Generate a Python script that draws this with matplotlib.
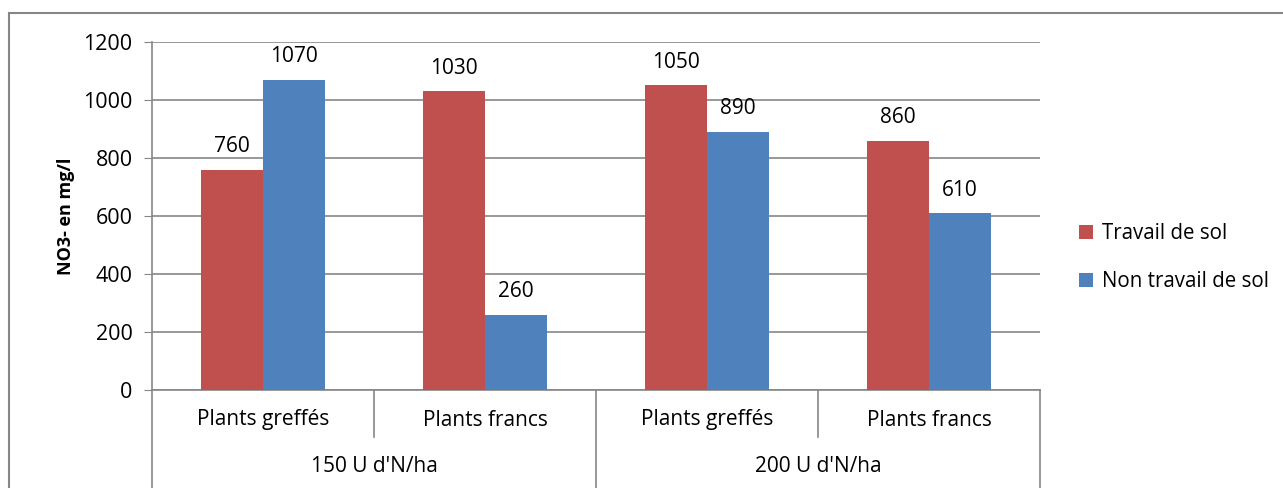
import matplotlib.pyplot as plt
import numpy as np
from matplotlib.patches import Rectangle

plt.rcParams['font.family'] = ['Open Sans', 'DejaVu Sans']

categories = ['Plants greffés', 'Plants francs', 'Plants greffés', 'Plants francs']
groups = ["150 U d'N/ha", "200 U d'N/ha"]
travail = [760, 1030, 1050, 860]
non_travail = [1070, 260, 890, 610]
series_names = ['Travail de sol', 'Non travail de sol']
colors = ['#C0504D', '#4F81BD']

W, H = 1283, 488
fig = plt.figure(figsize=(W / 100, H / 100), dpi=100)
ax = fig.add_axes([152 / W, 1 - 390 / H, (1040 - 152) / W, (390 - 42) / H])

x = np.arange(len(categories))
bw = 0.28
ax.bar(x - bw / 2, travail, bw, color=colors[0], label=series_names[0], zorder=3)
ax.bar(x + bw / 2, non_travail, bw, color=colors[1], label=series_names[1], zorder=3)

for xi, v in zip(x - bw / 2, travail):
    ax.annotate(str(v), (xi, v), xytext=(0, 9), textcoords='offset points',
                ha='center', va='bottom', fontsize=15, color='black')
for xi, v in zip(x + bw / 2, non_travail):
    ax.annotate(str(v), (xi, v), xytext=(0, 9), textcoords='offset points',
                ha='center', va='bottom', fontsize=15, color='black')

grid_c = '#868686'
ax.set_xlim(-0.5, len(categories) - 0.5)
ax.set_ylim(0, 1200)
ax.set_yticks(range(0, 1201, 200))
ax.tick_params(axis='y', labelsize=15.5, length=6, color=grid_c, pad=8)
ax.set_xticks([])
ax.yaxis.grid(True, color=grid_c, linewidth=1.2, zorder=0)
for s in ['top', 'right']:
    ax.spines[s].set_visible(False)
ax.spines['left'].set_color(grid_c)
ax.spines['left'].set_linewidth(1.2)
ax.spines['bottom'].set_color(grid_c)
ax.spines['bottom'].set_linewidth(1.2)
ax.set_ylabel('NO3- en mg/l', fontsize=13, fontweight='bold', labelpad=6)

# two-level category axis
tr = ax.get_xaxis_transform()
for xi, lab in zip(x, categories):
    ax.text(xi, -30 / 348, lab, transform=tr, ha='center', va='center', fontsize=15)
for gi, lab in enumerate(groups):
    ax.text(gi * 2 + 0.5, -77 / 348, lab, transform=tr, ha='center', va='center', fontsize=15)
for b in [-0.5, 1.5, 3.5]:
    ax.plot([b, b], [0, -100 / 348], transform=tr, color=grid_c, lw=1.2, clip_on=False)
for b in [0.5, 2.5]:
    ax.plot([b, b], [0, -47 / 348], transform=tr, color=grid_c, lw=1.2, clip_on=False)

ax.legend(loc='center left', bbox_to_anchor=(1.023, 0.38), frameon=False, fontsize=14.8,
          handlelength=0.7, handleheight=0.7, handletextpad=0.4, labelspacing=1.3)

fig.patches.append(Rectangle((9 / W, -0.1), 1.2, 1.1 - 13 / H, transform=fig.transFigure,
                             fill=False, edgecolor=grid_c, linewidth=1.5))

fig.savefig('out.png', dpi=100)
